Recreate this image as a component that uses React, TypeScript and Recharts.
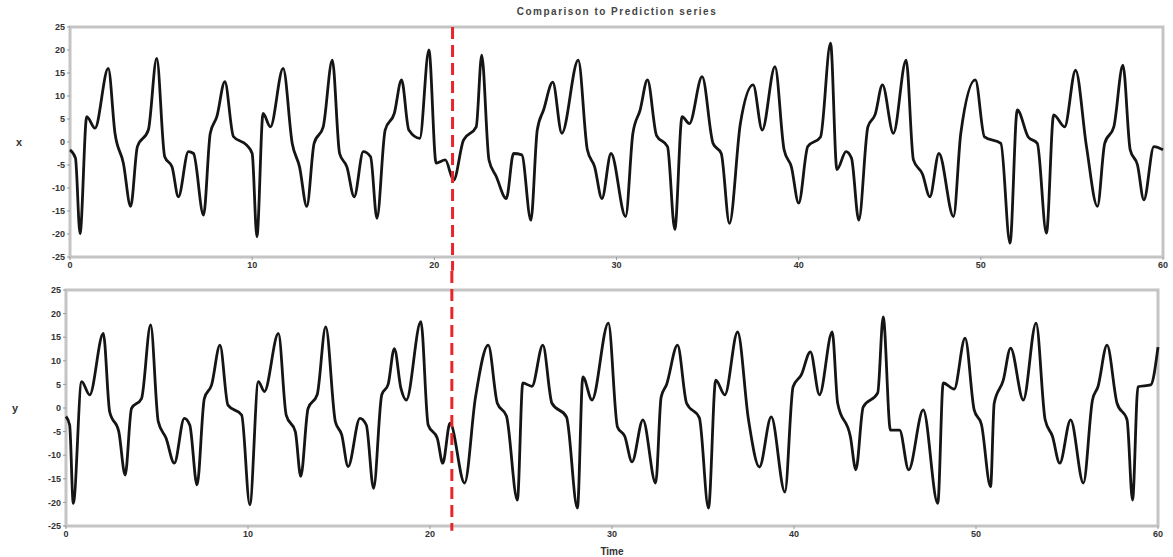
import React from 'react';
import { LineChart, Line, XAxis, YAxis, ReferenceArea, ReferenceLine } from 'recharts';

const xTicks = [0, 10, 20, 30, 40, 50, 60];
const yTicks = [-25, -20, -15, -10, -5, 0, 5, 10, 15, 20, 25];

const topTimes = [0, 0.3, 0.55, 0.92, 1.37, 2.1, 2.47, 2.93, 3.33, 3.7, 4.3, 4.76, 5.2, 5.6, 5.95, 6.5, 6.78, 7.33, 7.7, 8.06, 8.5, 8.97, 9.7, 10.0, 10.26, 10.6, 11.0, 11.7, 12.2, 12.6, 13.0, 13.4, 13.9, 14.4, 14.8, 15.2, 15.6, 16.1, 16.5, 16.85, 17.3, 17.8, 18.2, 18.6, 19.2, 19.7, 20.1, 20.6, 21.06, 21.6, 22.3, 22.6, 23.0, 23.4, 23.95, 24.35, 24.8, 25.3, 25.65, 26.0, 26.5, 27.0, 27.9, 28.4, 28.8, 29.2, 29.7, 30.5, 30.9, 31.3, 31.7, 32.2, 32.8, 33.2, 33.6, 34.0, 34.7, 35.3, 35.75, 36.2, 36.8, 37.5, 38.0, 38.7, 39.2, 39.6, 40.0, 40.5, 41.2, 41.75, 42.1, 42.6, 42.9, 43.3, 43.8, 44.2, 44.6, 45.2, 45.9, 46.3, 46.8, 47.2, 47.7, 48.5, 48.9, 49.7, 50.2, 51.1, 51.6, 52.0, 52.6, 53.1, 53.6, 54.0, 54.6, 55.2, 55.8, 56.4, 56.8, 57.3, 57.8, 58.2, 58.6, 58.95, 59.5, 60];
const topValues = [-1.7, -3.5, -19.9, 5.5, 3.0, 16, 1.9, -4.6, -14, -1, 2.6, 18.2, -3.2, -5.4, -11.9, -2.1, -2.5, -15.9, 1.9, 5.5, 13.1, 1.2, -0.7, -2.5, -20.6, 6.2, 3.3, 16, -0.3, -5.4, -14, -0.3, 3.3, 17.8, -2.5, -5.4, -11.9, -2.1, -3.2, -16.6, 2.6, 6.2, 13.5, 2.6, 0.8, 20, -4.6, -3.9, -8.3, 0.4, 3.3, 18.9, -3.9, -7.5, -12.3, -2.5, -2.8, -17, 2.6, 7, 13, 1.9, 17.8, -1.7, -5.4, -12.3, -2.5, -16.2, 1.9, 7, 13.5, 1.4, -1, -19, 5.5, 4, 14.2, -0.3, -2.5, -17.7, 4, 12.4, 2.6, 16.4, -1.7, -5.4, -13.3, -1, 1.1, 21.5, -6, -2.1, -3.5, -17, 3.3, 6, 12.4, 1.9, 17.8, -3.9, -7, -11.9, -2.5, -16.2, 1.9, 13.5, 1.1, -0.3, -22, 7, 1.1, -0.3, -19.8, 5.9, 3.3, 15.6, -1, -14, -0.3, 3.3, 16.7, -1.7, -5, -12.6, -1, -1.7];

const bottomTimes = [0, 0.2, 0.4, 0.86, 1.3, 2.05, 2.4, 2.9, 3.25, 3.6, 4.15, 4.65, 5.07, 5.5, 5.95, 6.5, 6.8, 7.2, 7.6, 8.0, 8.46, 8.9, 9.65, 10.1, 10.57, 10.9, 11.67, 12.1, 12.6, 12.9, 13.3, 13.8, 14.27, 14.8, 15.15, 15.5, 16.15, 16.5, 16.9, 17.35, 17.7, 18.04, 18.4, 18.7, 19.5, 19.9, 20.4, 20.7, 21.1, 21.9, 22.5, 23.2, 23.7, 24.2, 24.8, 25.1, 25.6, 26.2, 26.7, 27.5, 28.1, 28.4, 28.9, 29.8, 30.3, 30.7, 31.1, 31.7, 32.4, 32.7, 33.0, 33.6, 34.1, 34.8, 35.3, 35.7, 36.2, 36.9, 37.5, 38.1, 38.75, 39.5, 39.95, 40.4, 40.9, 41.4, 42.1, 42.4, 43.1, 43.4, 43.8, 44.6, 44.9, 45.3, 45.8, 46.3, 47.1, 47.9, 48.2, 48.8, 49.4, 49.9, 50.3, 50.8, 51.0, 51.5, 51.9, 52.6, 53.3, 53.8, 54.2, 54.6, 55.2, 55.9, 56.4, 56.7, 57.2, 57.75, 58.3, 58.6, 58.9, 59.6, 60];
const bottomValues = [-1.8, -3.6, -20.2, 5.6, 2.8, 15.8, -0.8, -5, -14.2, -0.1, 2, 17.6, -2.9, -6.4, -11.7, -2.2, -3.6, -16.3, 2, 4.9, 13.3, 0.6, -1.5, -20.5, 5.6, 3.5, 15.8, -1.5, -5, -14.5, -0.1, 2.8, 17.2, -2.9, -5.7, -12.4, -2.2, -3.6, -17, 2.8, 5, 12.6, 4.2, 1.7, 18.3, -3.6, -6.4, -11.7, -3.2, -15.9, 2.3, 13.3, 1, -1.7, -19.5, 5.3, 4.6, 13.3, 1, -1.9, -21.2, 6.6, 1.7, 18, -4, -6, -11.4, -2.5, -15.9, 2.3, 5, 13.3, 1, -2.1, -21.2, 5.9, 2.8, 16.1, -2.5, -12.5, -1.9, -17.8, 4.5, 7, 11.9, 2.8, 16.1, 1, -6.1, -13.1, 0.2, 3.2, 19.3, -4.7, -4.7, -13.1, -0.4, -20.2, 5.3, 4, 14.8, -0.4, -3.5, -16.7, 1, 5.9, 12.7, 1.7, 18, -2.5, -6, -11.7, -2.5, -15.9, 1.7, 4.5, 13.3, 1, -2.5, -19.5, 4.5, 4.9, 12.9];

const topData = topTimes.map((t, i) => ({ t, v: topValues[i] }));
const bottomData = bottomTimes.map((t, i) => ({ t, v: bottomValues[i] }));

const FRAME = '#c4c4c4';
const FONT = 'Liberation Sans, Arial, sans-serif';
const tickStyle = { fontSize: 9, fill: '#333', fontWeight: 'bold' as const, fontFamily: FONT };
const labelStyle = { fontSize: 11, fill: '#333', fontWeight: 'bold' as const, fontFamily: FONT };

export default function App() {
  return (
    <div style={{ position: 'absolute', left: 0, top: 0, width: 1173, height: 557, background: '#fff', overflow: 'hidden' }}>
      <div style={{ position: 'absolute', left: 417, top: 6, width: 400, textAlign: 'center', fontSize: 10, fontWeight: 'bold', letterSpacing: 1.5, color: '#444', fontFamily: FONT, whiteSpace: 'nowrap' }}>
        Comparison to Prediction series
      </div>
      <div style={{ position: 'absolute', left: 0, top: 0 }}>
        <LineChart width={1173} height={277} data={topData} margin={{ top: 27, right: 10, bottom: 0, left: 0 }}>
          <XAxis dataKey="t" type="number" domain={[0, 60]} ticks={xTicks} height={20} axisLine={false} tickLine={{ stroke: '#999' }} tickSize={3} tick={tickStyle} />
          <YAxis type="number" domain={[-25, 25]} ticks={yTicks} width={70} axisLine={false} tickLine={{ stroke: '#999' }} tickSize={3} tick={tickStyle} interval={0}
            label={{ value: 'x', position: 'insideLeft', offset: 16, style: labelStyle }} />
          <ReferenceArea x1={0} x2={60} y1={-25} y2={25} fill="none" fillOpacity={0} stroke={FRAME} strokeWidth={3} />
          <Line type="monotone" dataKey="v" stroke="#151515" strokeWidth={2.8} dot={false} isAnimationActive={false} />
          <ReferenceLine segment={[{ x: 21, y: 25 }, { x: 21, y: -28 }]} stroke="#e8262a" strokeWidth={3} strokeDasharray="12 6" ifOverflow="visible" />
        </LineChart>
      </div>
      <div style={{ position: 'absolute', left: 0, top: 270 }}>
        <LineChart width={1173} height={287} data={bottomData} margin={{ top: 20, right: 15, bottom: 0, left: 0 }}>
          <XAxis dataKey="t" type="number" domain={[0, 60]} ticks={xTicks} height={31} axisLine={false} tickLine={{ stroke: '#999' }} tickSize={3} tick={tickStyle}
            label={{ value: 'Time', position: 'insideBottom', offset: 2, style: { ...tickStyle, fontSize: 10 } }} />
          <YAxis type="number" domain={[-25, 25]} ticks={yTicks} width={66} axisLine={false} tickLine={{ stroke: '#999' }} tickSize={3} tick={tickStyle} interval={0}
            label={{ value: 'y', position: 'insideLeft', offset: 12, style: labelStyle }} />
          <ReferenceArea x1={0} x2={60} y1={-25} y2={25} fill="none" fillOpacity={0} stroke={FRAME} strokeWidth={3} />
          <Line type="monotone" dataKey="v" stroke="#151515" strokeWidth={2.8} dot={false} isAnimationActive={false} />
          <ReferenceLine segment={[{ x: 21.2, y: 29 }, { x: 21.2, y: -26 }]} stroke="#e8262a" strokeWidth={3} strokeDasharray="12 6" ifOverflow="visible" />
        </LineChart>
      </div>
    </div>
  );
}
